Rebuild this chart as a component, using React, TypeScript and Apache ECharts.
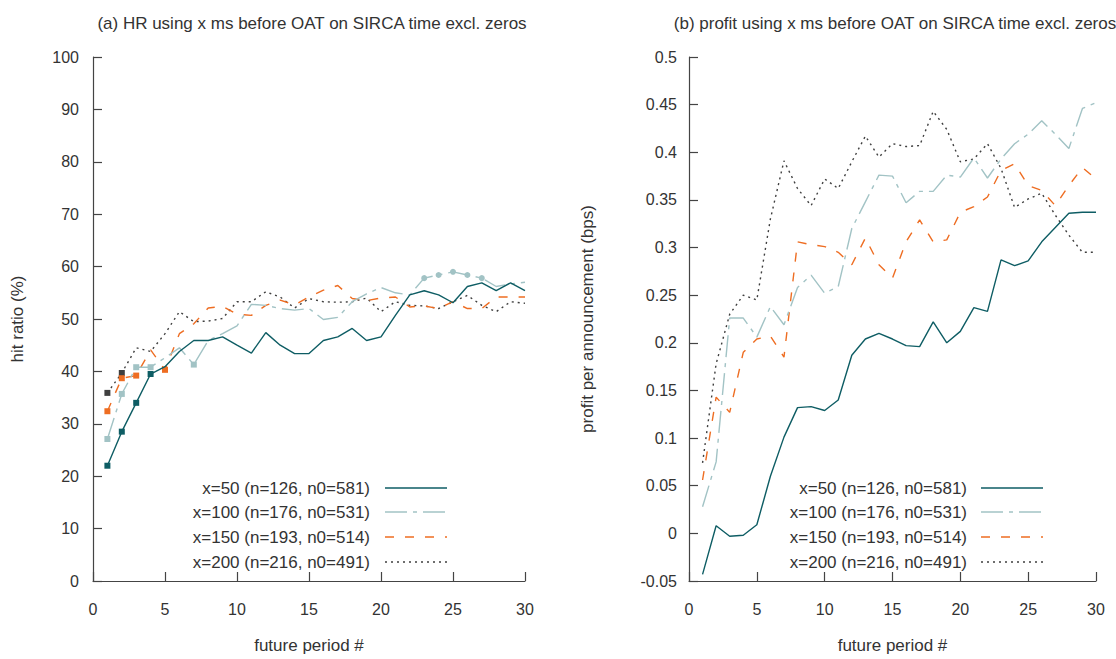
import React, { useEffect, useRef } from "react";
import * as echarts from "echarts";

const periods = [1, 2, 3, 4, 5, 6, 7, 8, 9, 10, 11, 12, 13, 14, 15, 16, 17, 18, 19, 20, 21, 22, 23, 24, 25, 26, 27, 28, 29, 30];

const seriesNames = [
  "x=50 (n=126, n0=581)",
  "x=100 (n=176, n0=531)",
  "x=150 (n=193, n0=514)",
  "x=200 (n=216, n0=491)",
];

const hr50 = [22.0, 28.5, 34.0, 39.5, 40.9, 43.8, 45.9, 45.9, 46.6, 45.0, 43.5, 47.4, 45.0, 43.4, 43.4, 45.9, 46.6, 48.2, 45.9, 46.6, 50.7, 54.6, 55.4, 54.6, 53.1, 56.2, 56.9, 55.4, 56.9, 55.4];
const hr100 = [27.1, 35.7, 40.8, 40.8, 42.6, 44.5, 41.3, 45.9, 47.2, 48.7, 52.8, 52.6, 52.0, 51.7, 52.0, 49.9, 50.3, 53.3, 54.8, 56.0, 55.0, 54.6, 57.8, 58.4, 59.0, 58.4, 57.8, 56.2, 56.7, 57.0];
const hr150 = [32.4, 38.7, 39.2, 44.1, 40.3, 47.2, 49.1, 52.1, 52.4, 50.9, 50.7, 52.6, 53.6, 52.7, 54.2, 55.5, 56.4, 53.9, 53.5, 54.0, 54.2, 52.3, 52.5, 52.0, 53.3, 52.0, 52.0, 54.2, 54.2, 54.2];
const hr200 = [35.9, 39.7, 44.5, 43.8, 47.2, 51.4, 49.5, 49.6, 50.1, 53.3, 53.3, 55.2, 54.2, 52.1, 53.9, 53.3, 53.2, 53.3, 54.0, 51.4, 53.3, 52.6, 52.5, 52.0, 53.3, 54.5, 52.6, 51.4, 53.3, 53.0];

const profit50 = [-0.043, 0.008, -0.003, -0.002, 0.009, 0.06, 0.101, 0.132, 0.133, 0.129, 0.14, 0.187, 0.204, 0.21, 0.204, 0.197, 0.196, 0.222, 0.2, 0.212, 0.237, 0.233, 0.287, 0.281, 0.286, 0.306, 0.321, 0.336, 0.337, 0.337];
const profit100 = [0.028, 0.075, 0.226, 0.226, 0.206, 0.238, 0.219, 0.258, 0.271, 0.252, 0.259, 0.32, 0.348, 0.376, 0.375, 0.347, 0.359, 0.359, 0.376, 0.374, 0.394, 0.373, 0.393, 0.409, 0.419, 0.433, 0.419, 0.404, 0.446, 0.452];
const profit150 = [0.056, 0.143, 0.127, 0.19, 0.204, 0.207, 0.185, 0.306, 0.303, 0.301, 0.295, 0.282, 0.31, 0.282, 0.268, 0.306, 0.329, 0.306, 0.308, 0.337, 0.343, 0.353, 0.381, 0.388, 0.365, 0.36, 0.344, 0.365, 0.384, 0.372];
const profit200 = [0.074, 0.178, 0.23, 0.25, 0.245, 0.33, 0.391, 0.362, 0.344, 0.372, 0.362, 0.39, 0.417, 0.395, 0.409, 0.406, 0.407, 0.443, 0.424, 0.39, 0.393, 0.409, 0.383, 0.342, 0.351, 0.357, 0.334, 0.313, 0.295, 0.295];

// marked (significant) periods in the hit-ratio panel
const hrRect50 = [1, 2, 3, 4];
const hrRect100 = [1, 2, 3, 4, 7];
const hrCircle100 = [23, 24, 25, 26, 27];
const hrRect150 = [1, 2, 3, 5];
const hrRect200 = [1, 2];

const colors = ["#0e5d64", "#a2c3c5", "#ee6d22", "#3f3f3f"];
const dashes: any[] = ["solid", [22, 6, 4, 6], [9, 11], [2, 4]];
const FONT = "Liberation Sans, Arial, sans-serif";

function App() {
  const ref = useRef<HTMLDivElement>(null);
  useEffect(() => {
    if (!ref.current) return;
    const chart = echarts.init(ref.current, null, { renderer: "svg" });

    const mk = (vals: number[], rects: number[], circles: number[]) =>
      vals.map((v, i) => {
        const p = periods[i];
        let symbol = "none";
        if (rects.includes(p)) symbol = "rect";
        if (circles.includes(p)) symbol = "circle";
        return { value: [p, v], symbol };
      });

    const hrData = [
      mk(hr50, hrRect50, []),
      mk(hr100, hrRect100, hrCircle100),
      mk(hr150, hrRect150, []),
      mk(hr200, hrRect200, []),
    ];
    const prData = [profit50, profit100, profit150, profit200].map((arr) =>
      arr.map((v, i) => [periods[i], v])
    );

    const series: any[] = [];
    hrData.forEach((d, i) => {
      series.push({
        type: "line",
        name: seriesNames[i],
        xAxisIndex: 0,
        yAxisIndex: 0,
        data: d,
        showSymbol: true,
        symbolSize: 6,
        itemStyle: { color: colors[i] },
        lineStyle: { color: colors[i], width: 1.4, type: dashes[i] },
        z: 10 - i,
      });
    });
    prData.forEach((d, i) => {
      series.push({
        type: "line",
        name: seriesNames[i] + " ",
        xAxisIndex: 1,
        yAxisIndex: 1,
        data: d,
        symbol: "none",
        lineStyle: { color: colors[i], width: 1.4, type: dashes[i] },
        z: 10 - i,
      });
    });

    const axisLine = { show: true, onZero: false, lineStyle: { color: "#444", width: 1.2 } };
    const axisTick = { show: true, inside: true, length: 9, lineStyle: { color: "#444", width: 1.2 } };
    const labelStyle = { color: "#333", fontSize: 16, fontFamily: FONT };
    const nameStyle = { color: "#333", fontSize: 17, fontFamily: FONT };

    const xAxisBase = (gridIndex: number) => ({
      type: "value",
      gridIndex,
      min: 0,
      max: 30,
      interval: 5,
      axisLine,
      axisTick,
      splitLine: { show: false },
      axisLabel: { ...labelStyle, margin: 20 },
      name: "future period #",
      nameLocation: "middle",
      nameGap: 56,
      nameTextStyle: nameStyle,
    });

    const graphics: any[] = [];
    const legendRows = [488, 512, 537, 562];
    const addLegend = (textRight: number, lineStart: number, lineEnd: number) => {
      seriesNames.forEach((nm, i) => {
        graphics.push({
          type: "text",
          x: textRight,
          y: legendRows[i],
          style: { text: nm, fill: "#333", font: `17px ${FONT}`, textAlign: "right", textVerticalAlign: "middle" },
        });
        graphics.push({
          type: "line",
          shape: { x1: lineStart, y1: legendRows[i], x2: lineEnd, y2: legendRows[i] },
          style: { stroke: colors[i], lineWidth: 1.4, lineDash: dashes[i] === "solid" ? null : dashes[i] },
        });
      });
    };
    addLegend(370, 385, 447);
    addLegend(967, 981, 1043);

    chart.setOption({
      animation: false,
      backgroundColor: "#fff",
      textStyle: { fontFamily: FONT },
      title: [
        {
          text: "(a) HR using x ms before OAT on SIRCA time excl. zeros",
          left: 307,
          top: 10,
          textAlign: "center",
          textStyle: { color: "#333", fontSize: 17, fontWeight: "normal", fontFamily: FONT },
        },
        {
          text: "(b) profit using x ms before OAT on SIRCA time excl. zeros",
          left: 890,
          top: 10,
          textAlign: "center",
          textStyle: { color: "#333", fontSize: 17, fontWeight: "normal", fontFamily: FONT },
        },
      ],
      grid: [
        { left: 93, top: 57, width: 432, height: 527 },
        { left: 689, top: 57, width: 407, height: 527 },
      ],
      xAxis: [xAxisBase(0), xAxisBase(1)],
      yAxis: [
        {
          type: "value",
          gridIndex: 0,
          min: 0,
          max: 100,
          interval: 10,
          axisLine,
          axisTick,
          splitLine: { show: false },
          axisLabel: { ...labelStyle, margin: 14 },
          name: "hit ratio (%)",
          nameLocation: "middle",
          nameGap: 67,
          nameTextStyle: nameStyle,
        },
        {
          type: "value",
          gridIndex: 1,
          min: -0.05,
          max: 0.5,
          interval: 0.05,
          axisLine,
          axisTick,
          splitLine: { show: false },
          axisLabel: {
            ...labelStyle,
            margin: 12,
            formatter: (v: number) => String(parseFloat(v.toFixed(2))),
          },
          name: "profit per announcement (bps)",
          nameLocation: "middle",
          nameGap: 93,
          nameTextStyle: nameStyle,
        },
      ],
      series,
      graphic: graphics,
    });

    return () => chart.dispose();
  }, []);

  return (
    <div
      ref={ref}
      style={{ position: "fixed", left: 0, top: 0, width: 1116, height: 659, background: "#fff" }}
    />
  );
}

export default App;
